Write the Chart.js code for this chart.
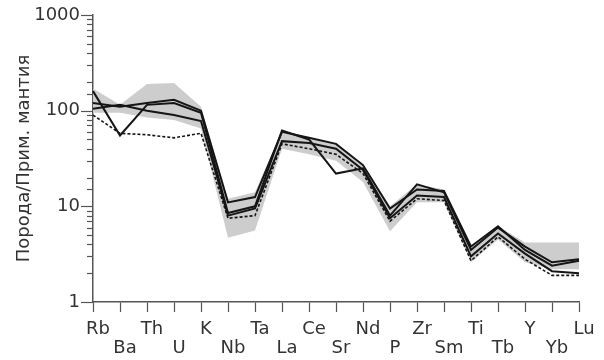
<!DOCTYPE html>
<html>
<head>
<meta charset="utf-8">
<script src="https://cdn.jsdelivr.net/npm/chart.js@4"></script>
<style>
html, body { margin: 0; padding: 0; background: #fff; }
#wrap { width: 604px; height: 360px; }
</style>
</head>
<body>
<div id="wrap"><canvas id="spider"></canvas></div>
<script>
// primitive-mantle normalised spider diagram
const elements = ['Rb', 'Ba', 'Th', 'U', 'K', 'Nb', 'Ta', 'La', 'Ce', 'Sr', 'Nd', 'P', 'Zr', 'Sm', 'Ti', 'Tb', 'Y', 'Yb', 'Lu'];

const sampleA = [160, 55, 115, 120, 95, 8.5, 10, 62, 50, 22, 25, 8, 17, 14, 3.5, 6, 3.8, 2.6, 2.8];
const sampleB = [120, 110, 120, 130, 100, 11, 12.5, 60, 52, 45, 27, 9.5, 15, 14.5, 3.8, 6.2, 3.5, 2.4, 2.7];
const sampleC = [105, 115, 100, 90, 78, 8, 9.5, 48, 46, 40, 24, 7.5, 13, 12.5, 3.0, 5.2, 3.2, 2.1, 2.0];
const sampleD = [90, 58, 56, 52, 58, 7.5, 8, 45, 40, 35, 22, 7, 12, 11.5, 2.7, 4.8, 2.8, 1.9, 1.9];

const rangeMax = [170, 115, 190, 195, 110, 12, 14, 62, 52, 45, 27, 10, 17, 15, 3.9, 6.2, 4.2, 4.2, 4.2];
const rangeMin = [95, 95, 85, 80, 65, 4.7, 5.6, 40, 35, 30, 18, 5.5, 11, 11, 2.6, 4.5, 2.6, 2.2, 2.2];

const yLabels = [1, 10, 100, 1000];

const axisColor = '#555';
const textColor = '#333';
const lineColor = '#151515';

const isDecade = (v) => {
    const l = Math.log10(v);
    return Math.abs(l - Math.round(l)) < 1e-9;
};

// log axis: long ticks at decades, short ones in between
const logTicks = {
    id: 'logTicks',
    afterDraw(chart) {
        const y = chart.scales.y;
        const ctx = chart.ctx;
        ctx.save();
        ctx.strokeStyle = axisColor;
        ctx.lineWidth = 1.2;
        for (const t of y.ticks) {
            const py = Math.round(y.getPixelForValue(t.value)) + 0.5;
            ctx.beginPath();
            ctx.moveTo(y.right - (isDecade(t.value) ? 12 : 6), py);
            ctx.lineTo(y.right, py);
            ctx.stroke();
        }
        ctx.restore();
    }
};

const solid = (data) => ({
    data,
    borderColor: lineColor,
    borderWidth: 2,
    pointRadius: 0,
    fill: false,
    tension: 0,
});

new Chart('spider', {
    type: 'line',
    data: {
        labels: elements,
        datasets: [
            solid(sampleA),
            solid(sampleB),
            solid(sampleC),
            {
                ...solid(sampleD),
                borderWidth: 1.6,
                borderDash: [3, 2],
            },
            {
                data: rangeMax,
                borderWidth: 0,
                pointRadius: 0,
                backgroundColor: '#cdcdcd',
                fill: '+1',
            },
            {
                data: rangeMin,
                borderWidth: 0,
                pointRadius: 0,
                fill: false,
            },
        ],
    },
    options: {
        responsive: true,
        maintainAspectRatio: false,
        animation: false,
        layout: {
            padding: { top: 15, right: 25, left: 0, bottom: 0 },
        },
        scales: {
            x: {
                type: 'category',
                offset: false,
                afterFit: (scale) => { scale.height = 58; },
                border: { color: axisColor, width: 1.5 },
                grid: {
                    drawOnChartArea: false,
                    tickLength: 10,
                    tickColor: axisColor,
                    tickWidth: 1.2,
                },
                ticks: {
                    autoSkip: false,
                    maxRotation: 0,
                    padding: 8,
                    labelOffset: 5,
                    color: textColor,
                    font: { family: 'DejaVu Sans', size: 18, lineHeight: 1.06 },
                    callback: (val, i) => i % 2 ? ['', elements[i]] : elements[i],
                },
            },
            y: {
                type: 'logarithmic',
                min: 1,
                max: 1000,
                afterFit: (scale) => { scale.width = 93; },
                border: { color: axisColor, width: 1.5 },
                grid: {
                    drawOnChartArea: false,
                    tickLength: 12,
                    tickColor: 'rgba(0,0,0,0)',
                },
                ticks: {
                    autoSkip: false,
                    padding: 1,
                    color: textColor,
                    font: { family: 'DejaVu Sans', size: 18 },
                    callback: (value) => yLabels.includes(value) ? String(value) : '',
                },
                title: {
                    display: true,
                    text: 'Порода/Прим. мантия',
                    color: textColor,
                    font: { family: 'DejaVu Sans', size: 18 },
                    padding: { top: 14, bottom: 0 },
                },
            },
        },
        plugins: {
            legend: { display: false },
            tooltip: { enabled: false },
            filler: { drawTime: 'beforeDatasetsDraw' },
        },
    },
    plugins: [logTicks],
});
</script>
</body>
</html>
